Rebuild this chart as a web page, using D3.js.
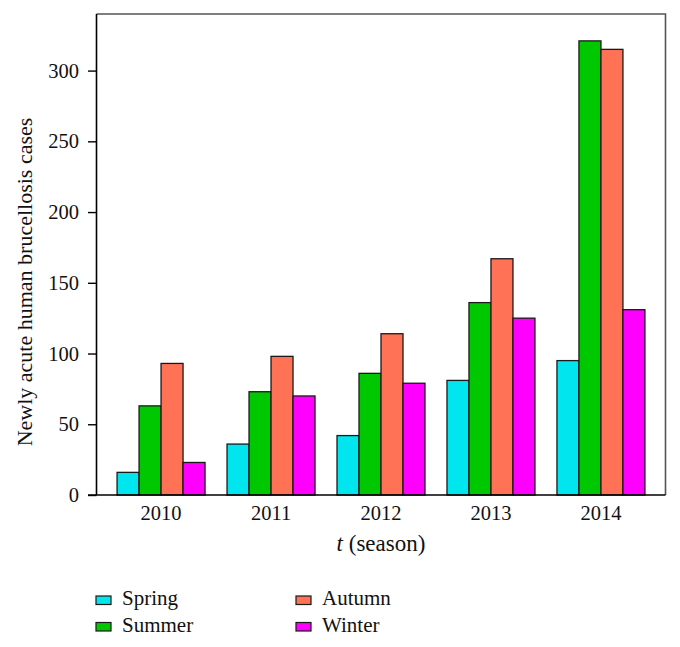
<!DOCTYPE html>
<html>
<head>
<meta charset="utf-8">
<script src="https://cdn.jsdelivr.net/npm/d3@7"></script>
<style>
  body { margin: 0; background: #fff; }
  svg { display: block; font-family: "Liberation Serif", "DejaVu Serif", serif; }
</style>
</head>
<body>
<svg id="chart" width="680" height="647"></svg>
<script>
// data
const years = ["2010", "2011", "2012", "2013", "2014"];
const seasons = ["Spring", "Summer", "Autumn", "Winter"];
const spring = [16, 36, 42, 81, 95];
const summer = [63, 73, 86, 136, 321];
const autumn = [93, 98, 114, 167, 315];
const winter = [23, 70, 79, 125, 131];
const yTicks = [0, 50, 100, 150, 200, 250, 300];
const colors = ["#00e5ee", "#00c800", "#ff7256", "#ff00ff"];

const series = [spring, summer, autumn, winter];
const rows = years.map((yr, i) => ({ year: yr, values: seasons.map((s, j) => ({ season: s, value: series[j][i] })) }));

const svg = d3.select("#chart");
const mLeft = 96.5, mRight = 665.5, mTop = 14, mBottom = 495;

const x = d3.scaleBand().domain(years).range([mLeft, mRight]).paddingInner(0.2).paddingOuter(0.187);
const xs = d3.scaleBand().domain(seasons).range([0, x.bandwidth()]);
const y = d3.scaleLinear().domain([0, 340]).range([mBottom, mTop]);
const color = d3.scaleOrdinal().domain(seasons).range(colors);

// frame (top and right in grey)
svg.append("path")
  .attr("d", `M${mLeft},${mTop}H${mRight}V${mBottom}`)
  .attr("fill", "none")
  .attr("stroke", "#555")
  .attr("stroke-width", 1.6);

// bars
svg.append("g")
  .selectAll("g")
  .data(rows)
  .join("g")
  .attr("transform", d => `translate(${x(d.year)},0)`)
  .selectAll("rect")
  .data(d => d.values)
  .join("rect")
  .attr("x", d => xs(d.season))
  .attr("y", d => y(d.value))
  .attr("width", xs.bandwidth())
  .attr("height", d => y(0) - y(d.value))
  .attr("fill", d => color(d.season))
  .attr("stroke", "#1a1a1a")
  .attr("stroke-width", 1.3);

// y axis
const yAxis = svg.append("g")
  .attr("transform", `translate(${mLeft},0)`)
  .call(d3.axisLeft(y).tickValues(yTicks).tickSize(8.5).tickPadding(9))
  .attr("font-family", null)
  .attr("font-size", 20.5);
yAxis.select(".domain").attr("d", `M0,${mTop}V${mBottom}`).attr("stroke", "#000").attr("stroke-width", 1.6);
yAxis.selectAll(".tick line").attr("stroke-width", 1.4);
yAxis.selectAll("text").attr("fill", "#111");

// x axis
const xAxis = svg.append("g")
  .attr("transform", `translate(0,${mBottom})`)
  .call(d3.axisBottom(x).tickSize(0).tickPadding(10))
  .attr("font-family", null)
  .attr("font-size", 20.5);
xAxis.select(".domain").attr("d", `M${mLeft - 8.5},0H${mRight}`).attr("stroke", "#000").attr("stroke-width", 1.6);
xAxis.selectAll("text").attr("fill", "#111");

// axis titles
svg.append("text")
  .attr("transform", `translate(32,282) rotate(-90)`)
  .attr("text-anchor", "middle")
  .attr("font-size", 22)
  .attr("fill", "#111")
  .text("Newly acute human brucellosis cases");

const xt = svg.append("text")
  .attr("x", (mLeft + mRight) / 2)
  .attr("y", 551)
  .attr("text-anchor", "middle")
  .attr("font-size", 23)
  .attr("fill", "#111");
xt.append("tspan").attr("font-style", "italic").text("t");
xt.append("tspan").text(" (season)");

// legend
const legend = svg.append("g")
  .selectAll("g")
  .data(seasons)
  .join("g")
  .attr("transform", (d, i) => `translate(${i < 2 ? 96 : 296},${605 + (i % 2) * 26.5})`);
legend.append("rect")
  .attr("x", 0).attr("y", -9)
  .attr("width", 15).attr("height", 8.5)
  .attr("fill", d => color(d))
  .attr("stroke", "#1a1a1a")
  .attr("stroke-width", 1.2);
legend.append("text")
  .attr("x", 26)
  .attr("font-size", 21)
  .attr("fill", "#111")
  .text(d => d);
</script>
</body>
</html>
